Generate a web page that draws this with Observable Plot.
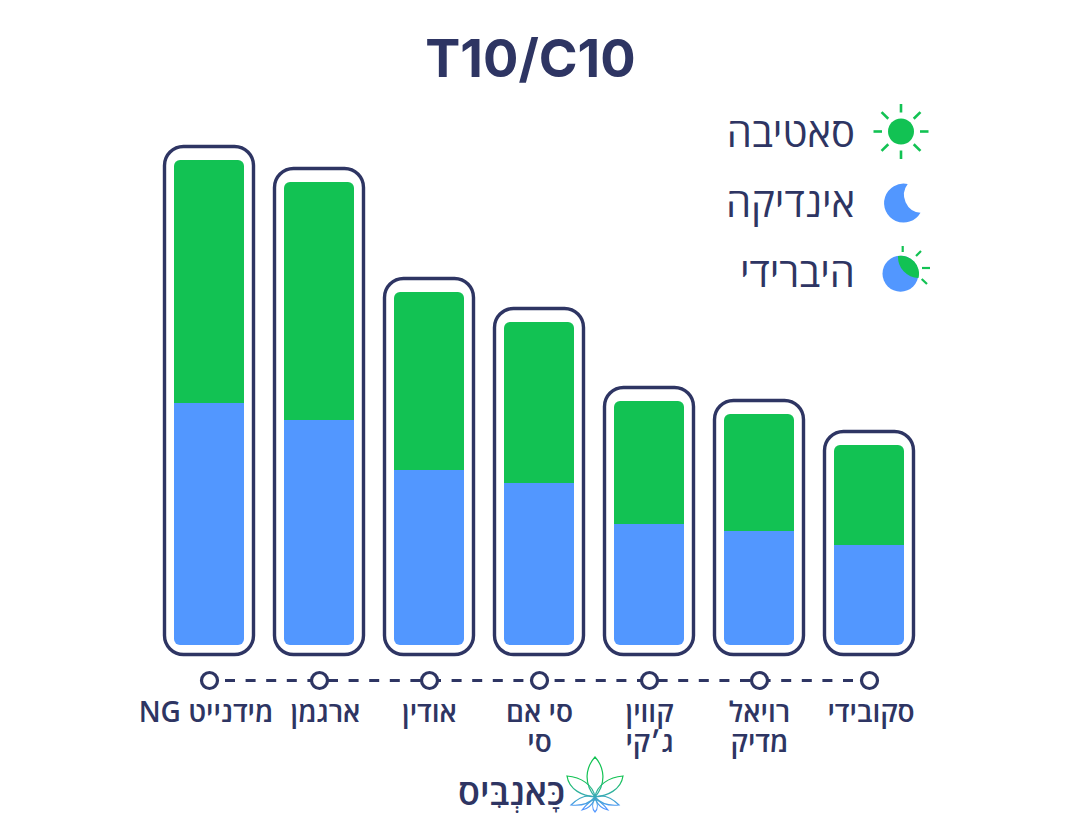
<!DOCTYPE html>
<html><head><meta charset="utf-8">
<script src="https://cdn.jsdelivr.net/npm/d3@7"></script>
<script src="https://cdn.jsdelivr.net/npm/@observablehq/plot@0.6"></script>
<style>html,body{margin:0;background:#fff}</style></head>
<body><div id="c"></div>
<script>
const strains = ["מידנייט NG","ארגמן","אודין","סי אם סי","קווין ג׳קי","רויאל מדיק","סקובידי"];
const labels = ["מידנייט NG","ארגמן","אודין","סי אם\nסי","קווין\nג׳קי","רויאל\nמדיק","סקובידי"];
const labelShift = [-3.5,6,0,0,0,0,1.5];
const c10 = [242,225,175,162,121,114,100];
const t10 = [243,238,178,161,123,117,100];
const legendNames = ["סאטיבה","אינדיקה","היברידי"];
const navy="#2e3563", green="#12c253", blue="#5297ff", font="'Open Sans','Liberation Sans',sans-serif";
const table = strains.map((s,i)=>({s,label:labels[i],shift:labelShift[i],c:c10[i],t:c10[i]+t10[i]}));

function overlay(){
  const g=d3.create("svg:g");
  const rays=(cx,cy,list,w)=>list.forEach(([a,r0,r1])=>{const t=a*Math.PI/180;
    g.append("line").attr("x1",cx+r0*Math.cos(t)).attr("y1",cy+r0*Math.sin(t)).attr("x2",cx+r1*Math.cos(t)).attr("y2",cy+r1*Math.sin(t)).attr("stroke",green).attr("stroke-width",w);});
  legendNames.forEach((n,i)=>g.append("text").text(n).attr("x",855).attr("y",[147,217,287][i])
    .attr("text-anchor","start").attr("font-family",font).attr("font-size",40).attr("fill",navy));
  g.append("circle").attr("cx",901).attr("cy",131.5).attr("r",13).attr("fill",green);
  rays(901,131.5,[0,45,90,135,180,225,270,315].map(a=>[a,a%90?18:19,27.5]),2.6);
  g.append("path").attr("d","M907.7,184A19.5,19.5 0 1 0 920.5,212.8A18,18 0 0 1 907.7,184Z").attr("fill",blue);
  g.append("circle").attr("cx",900.5).attr("cy",273.7).attr("r",18).attr("fill",blue);
  g.append("path").attr("d","M898,256A18,18 0 0 1 918.5,278A21,21 0 0 1 898,256Z").attr("fill",green);
  [[902.7,246,902.7,252],[916,256,921,251],[922,268,930,268],[921.7,279,927,284]].forEach(d=>
    g.append("line").attr("x1",d[0]).attr("y1",d[1]).attr("x2",d[2]).attr("y2",d[3]).attr("stroke",green).attr("stroke-width",2.2));
  const defs=g.append("defs");
  const lg=defs.append("linearGradient").attr("id","leaf").attr("gradientUnits","userSpaceOnUse").attr("x1",0).attr("x2",0).attr("y1",780).attr("y2",808);
  lg.append("stop").attr("offset",0).attr("stop-color",green);
  lg.append("stop").attr("offset",1).attr("stop-color",blue);
  ["M595,797C583,783 586,767 595,757C604,767 607,783 595,797Z",
   "M595,797C583,796 569,790 567,776C581,777 593,785 595,797Z",
   "M595,797C607,796 621,790 623,776C609,777 597,785 595,797Z",
   "M595,797C586,794 578,798 571,805C581,806 590,803 595,797Z",
   "M595,797C604,794 612,798 619,805C609,806 600,803 595,797Z",
   "M595,799C590,801 586,805 582,810C588,809 592,805 595,799Z",
   "M595,799C600,801 604,805 608,810C602,809 598,805 595,799Z",
   "M595,797C592,803 592,809 595,812C598,809 598,803 595,797Z"
  ].forEach(d=>g.append("path").attr("d",d).attr("fill","none").attr("stroke","url(#leaf)").attr("stroke-width",1.2));
  return g.node();
}

const labelMark = (shift) => Plot.text(table.filter(d=>d.shift===shift),{x:"s",text:"label",y:()=>-55,dx:shift,fontSize:28,fontWeight:600,fill:navy,fontFamily:font,lineHeight:1.07,lineAnchor:"top",textAnchor:"middle"});
const y0=-183;
const plot = Plot.plot({
  width:1080,height:828,margin:0,
  style:{direction:"rtl",background:"#fff"},
  x:{type:"band",domain:strains,range:[174.3,904.3],paddingInner:40/110,paddingOuter:0,axis:null},
  y:{domain:[y0,645],range:[828,0],axis:null},
  marks:[
    Plot.barY(table,{x:"s",y1:0,y2:"t",fill:"none",stroke:navy,strokeWidth:3.4,rx:19,insetLeft:-9.5,insetRight:-9.5,insetTop:-13.5,insetBottom:-9.5}),
    Plot.barY(table,{x:"s",y1:"c",y2:"t",fill:green,rx1y1:6,rx2y1:6}),
    Plot.barY(table,{x:"s",y1:0,y2:"c",fill:blue,rx1y2:6,rx2y2:6}),
    Plot.line(table,{x:"s",y:()=>-35,stroke:navy,strokeWidth:2.8,strokeLinecap:"butt",strokeDasharray:"10 10.6",strokeDashoffset:5.1}),
    Plot.dot(table,{x:"s",y:()=>-35,r:8,fill:"#fff",stroke:navy,strokeWidth:3.2}),
    ...Array.from(new Set(labelShift),labelMark),
    Plot.text(["T10/C10"],{frameAnchor:"top",dy:60,dx:-10,text:d=>d,fontSize:52.5,fontWeight:700,fill:navy,fontFamily:"Inter,Roboto,sans-serif",lineAnchor:"middle",textAnchor:"middle"}),
    Plot.text(["כָּאנְבִּיס"],{frameAnchor:"bottom",dy:-35,dx:-29,text:d=>d,fontSize:36,fontWeight:600,fill:navy,fontFamily:font,lineAnchor:"middle",textAnchor:"middle"}),
    overlay
  ]
});
document.getElementById("c").append(plot);
</script></body></html>
